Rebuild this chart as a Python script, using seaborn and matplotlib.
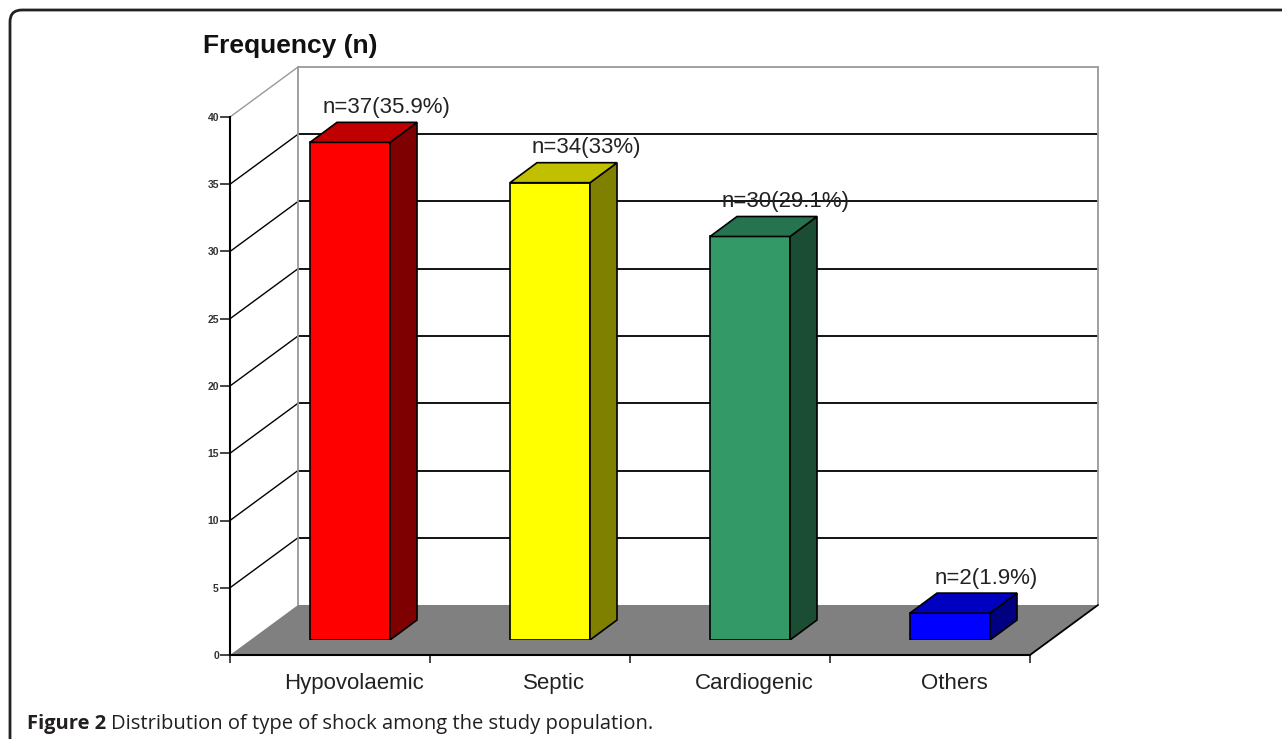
import pandas as pd
import matplotlib
matplotlib.use("Agg")
import matplotlib.pyplot as plt
import matplotlib.transforms as mtransforms
from matplotlib.patches import Polygon, FancyBboxPatch
import seaborn as sns

# Données
categories = ["Hypovolaemic", "Septic", "Cardiogenic", "Others"]
counts = [37, 34, 30, 2]
labels = ["n=37(35.9%)", "n=34(33%)", "n=30(29.1%)", "n=2(1.9%)"]
front_colors = ["#ff0000", "#ffff00", "#339966", "#0000ff"]
side_colors = ["#7f0000", "#808000", "#1a4d33", "#000080"]
top_colors = ["#c00000", "#c0c000", "#267350", "#0000c0"]
y_ticks = [0, 5, 10, 15, 20, 25, 30, 35, 40]

W, H = 1282, 739
sns.set_style("white")
plt.rcParams["font.family"] = ["Liberation Sans", "DejaVu Sans"]

fig = plt.figure(figsize=(W / 100, H / 100), dpi=100)

# plan des barres (milieu de profondeur)
ax = fig.add_axes([250 / W, (H - 640) / H, 800 / W, 538 / H])
ax.set_xlim(-0.5, 3.5)
ax.set_ylim(0, 40)
ax.axis("off")

px_x = 800 / 4      # pixels par unité x
px_y = 538 / 40     # pixels par unité y


def shift(x, y, dx, dy):
    # décalage de profondeur en pixels (dy vers le haut)
    return (x + dx / px_x, y + dy / px_y)


FRONT = (-20, -15)
BACK = (48, 35)
DEPTH = (27, 20)

# sol gris
floor = [shift(-0.5, 0, *FRONT), shift(3.5, 0, *FRONT), shift(3.5, 0, *BACK), shift(-0.5, 0, *BACK)]
ax.add_patch(Polygon(floor, closed=True, facecolor="#808080", edgecolor="none", zorder=0.5, clip_on=False))
ax.plot(*zip(shift(3.5, 0, *FRONT), shift(3.5, 0, *BACK)), color="black", lw=1.3, zorder=0.6, clip_on=False)

# murs : lignes de grille
for t in y_ticks[1:]:
    c = "#999999" if t == 40 else "black"
    ax.plot(*zip(shift(-0.5, t, *BACK), shift(3.5, t, *BACK)), color=c, lw=1.3, zorder=0.4, clip_on=False)
    ax.plot(*zip(shift(-0.5, t, *FRONT), shift(-0.5, t, *BACK)), color=c, lw=1.0, zorder=0.4, clip_on=False)
for xe in (-0.5, 3.5):
    ax.plot(*zip(shift(xe, 0, *BACK), shift(xe, 40, *BACK)), color="#999999", lw=1.3, zorder=0.4, clip_on=False)

# faces avant des barres
df = pd.DataFrame({"type": categories, "n": counts})
sns.barplot(data=df, x="type", y="n", hue="type", palette=front_colors, width=0.4, saturation=1,
            edgecolor="black", linewidth=1.2, legend=False, ax=ax, zorder=3)
ax.set_xlim(-0.5, 3.5)
ax.set_ylim(0, 40)

# côtés et dessus (effet 3D)
for i, v in enumerate(counts):
    l, r = i - 0.2, i + 0.2
    side = [(r, 0), (r, v), shift(r, v, *DEPTH), shift(r, 0, *DEPTH)]
    top = [(l, v), (r, v), shift(r, v, *DEPTH), shift(l, v, *DEPTH)]
    ax.add_patch(Polygon(side, closed=True, facecolor=side_colors[i], edgecolor="black", lw=1.2, zorder=3))
    ax.add_patch(Polygon(top, closed=True, facecolor=top_colors[i], edgecolor="black", lw=1.2, zorder=3))
    ax.text(i + 0.18, v + 1.8, labels[i], ha="center", va="bottom", fontsize=16, color="#222222", zorder=4)

# axes du plan avant
axf = fig.add_axes([230 / W, (H - 655) / H, 800 / W, 538 / H])
axf.set_facecolor("none")
axf.set_xlim(-0.5, 3.5)
axf.set_ylim(0, 40)
for s in ["top", "right"]:
    axf.spines[s].set_visible(False)
for s in ["left", "bottom"]:
    axf.spines[s].set_color("black")
    axf.spines[s].set_linewidth(1.5)
axf.set_yticks(y_ticks)
axf.set_yticklabels([str(t) for t in y_ticks], fontsize=7.5, fontweight="bold", color="#333333")
axf.tick_params(axis="y", direction="out", length=7, width=1.2, pad=1, left=True)
axf.set_xticks([-0.5, 0.5, 1.5, 2.5, 3.5], minor=True)
axf.set_xticks([i + 0.12 for i in range(len(categories))])
axf.set_xticklabels(categories, fontsize=16, color="#222222")
axf.tick_params(axis="x", which="major", length=0, pad=13)
axf.tick_params(axis="x", which="minor", direction="out", length=6, width=1.2, bottom=True)

fig.text(203 / W, 1 - 53 / H, "Frequency (n)", fontsize=19, fontweight="bold", color="#111111")

# cadre arrondi
frame = FancyBboxPatch((10, -20), W + 40, H - 10 + 20, boxstyle="round,pad=0,rounding_size=12",
                       transform=mtransforms.IdentityTransform(), facecolor="none",
                       edgecolor="#222222", lw=2)
fig.patches.append(frame)

# légende de la figure
r = fig.canvas.get_renderer()
t1 = fig.text(27 / W, 1 - 729 / H, "Figure 2", fontsize=14.5, fontweight="bold",
              family=["Open Sans", "DejaVu Sans"], color="#231f20")
bb = t1.get_window_extent(renderer=r)
fig.text((bb.x1 + 5) / W, 1 - 729 / H, "Distribution of type of shock among the study population.",
         fontsize=14.5, family=["Open Sans", "DejaVu Sans"], color="#231f20")

fig.savefig("out.png", dpi=100)
